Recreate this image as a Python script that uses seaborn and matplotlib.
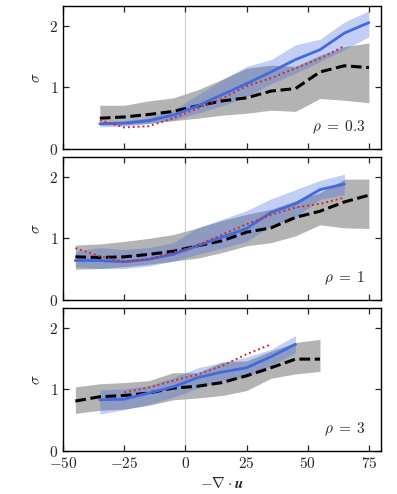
import numpy as np
import matplotlib
matplotlib.use('Agg')
import matplotlib.pyplot as plt
import seaborn as sns
import pandas as pd

# ------------------------------------------------
# Data, one block per panel
# ------------------------------------------------
rho_labels = [r'$\rho\;=\;0.3$', r'$\rho\;=\;1$', r'$\rho\;=\;3$']
x_ticks = [-50, -25, 0, 25, 50, 75]
y_ticks = [0, 1, 2]

# panel rho = 0.3
x_black_1 = [-35, -25, -15, -5, 5, 15, 25, 35, 45, 55, 65, 75]
black_1 = [0.50, 0.52, 0.56, 0.61, 0.70, 0.78, 0.83, 0.94, 0.98, 1.25, 1.35, 1.32]
black_hi_1 = [0.71, 0.71, 0.78, 0.83, 0.96, 1.13, 1.31, 1.36, 1.34, 1.52, 1.66, 1.72]
black_lo_1 = [0.39, 0.39, 0.42, 0.46, 0.50, 0.55, 0.58, 0.63, 0.61, 0.82, 0.79, 0.75]
x_blue_1 = [-35, -25, -15, -5, 5, 15, 25, 35, 45, 55, 65, 75]
blue_1 = [0.41, 0.42, 0.46, 0.55, 0.70, 0.88, 1.06, 1.25, 1.45, 1.61, 1.88, 2.05]
blue_hi_1 = [0.44, 0.46, 0.51, 0.63, 0.88, 1.12, 1.34, 1.45, 1.69, 1.78, 2.06, 2.24]
blue_lo_1 = [0.36, 0.37, 0.41, 0.47, 0.58, 0.70, 0.85, 1.06, 1.23, 1.42, 1.61, 1.82]
x_red_1 = [-35, -25, -15, -5, 5, 15, 25, 35, 45, 55, 65]
red_1 = [0.47, 0.35, 0.37, 0.50, 0.66, 0.82, 1.02, 1.15, 1.31, 1.47, 1.67]

# panel rho = 1
x_black_2 = [-45, -35, -25, -15, -5, 5, 15, 25, 35, 45, 55, 65, 75]
black_2 = [0.70, 0.69, 0.70, 0.74, 0.79, 0.88, 0.96, 1.10, 1.17, 1.34, 1.44, 1.59, 1.70]
black_hi_2 = [0.89, 0.91, 0.95, 1.00, 1.06, 1.17, 1.29, 1.39, 1.47, 1.61, 1.74, 1.96, 1.96]
black_lo_2 = [0.50, 0.51, 0.54, 0.58, 0.63, 0.68, 0.77, 0.88, 0.93, 1.04, 1.22, 1.17, 1.16]
x_blue_2 = [-45, -35, -25, -15, -5, 5, 15, 25, 35, 45, 55, 65]
blue_2 = [0.64, 0.64, 0.62, 0.66, 0.74, 0.88, 1.02, 1.16, 1.42, 1.56, 1.79, 1.88]
blue_hi_2 = [0.79, 0.85, 0.82, 0.85, 0.93, 1.17, 1.31, 1.45, 1.64, 1.79, 1.94, 2.04]
blue_lo_2 = [0.54, 0.51, 0.51, 0.55, 0.63, 0.74, 0.84, 0.95, 1.20, 1.34, 1.63, 1.71]
x_red_2 = [-45, -35, -25, -15, -5, 5, 15, 25, 35, 45, 55, 65]
red_2 = [0.84, 0.71, 0.62, 0.66, 0.77, 0.89, 1.06, 1.23, 1.38, 1.50, 1.56, 1.66]

# panel rho = 3
x_black_3 = [-45, -35, -25, -15, -5, 5, 15, 25, 35, 45, 55]
black_3 = [0.81, 0.88, 0.90, 0.94, 1.02, 1.05, 1.11, 1.22, 1.35, 1.49, 1.49]
black_hi_3 = [1.04, 1.09, 1.11, 1.14, 1.27, 1.27, 1.44, 1.46, 1.62, 1.76, 1.81]
black_lo_3 = [0.61, 0.66, 0.68, 0.74, 0.83, 0.86, 0.90, 0.98, 1.18, 1.25, 1.29]
x_blue_3 = [-35, -25, -15, -5, 5, 15, 25, 35, 45]
blue_3 = [0.83, 0.84, 0.94, 1.04, 1.19, 1.28, 1.35, 1.53, 1.73]
blue_hi_3 = [0.99, 1.01, 1.06, 1.19, 1.35, 1.44, 1.52, 1.65, 1.87]
blue_lo_3 = [0.60, 0.67, 0.76, 0.87, 1.02, 1.14, 1.20, 1.38, 1.60]
x_red_3 = [-25, -15, -5, 5, 15, 25, 35]
red_3 = [0.95, 1.03, 1.14, 1.24, 1.38, 1.57, 1.73]

panels = [
    (x_black_1, black_1, black_lo_1, black_hi_1, x_blue_1, blue_1, blue_lo_1, blue_hi_1, x_red_1, red_1),
    (x_black_2, black_2, black_lo_2, black_hi_2, x_blue_2, blue_2, blue_lo_2, blue_hi_2, x_red_2, red_2),
    (x_black_3, black_3, black_lo_3, black_hi_3, x_blue_3, blue_3, blue_lo_3, blue_hi_3, x_red_3, red_3),
]

# ------------------------------------------------
# Style
# ------------------------------------------------
sns.set_style('ticks')
plt.rcParams['font.family'] = ['DejaVu Serif']
plt.rcParams['mathtext.fontset'] = 'cm'
plt.rcParams['font.size'] = 11
plt.rcParams['xtick.direction'] = 'in'
plt.rcParams['ytick.direction'] = 'in'
plt.rcParams['xtick.top'] = True
plt.rcParams['ytick.right'] = True
plt.rcParams['axes.linewidth'] = 1.0
plt.rcParams['axes.edgecolor'] = 'black'

fig, axes = plt.subplots(3, 1, figsize=(3.97, 4.94), dpi=100, sharex=True)
fig.subplots_adjust(left=0.159, right=0.96, top=0.988, bottom=0.087, hspace=0.055)

blue = '#4169e1'
for ax, p, lab in zip(axes, panels, rho_labels):
    xb, yb, lob, hib, xu, yu, lou, hiu, xr, yr = p
    ax.axvline(0, color='#cccccc', lw=0.8, zorder=0)
    ax.fill_between(xb, lob, hib, color='#a6a6a6', alpha=0.85, lw=0, zorder=1)
    ax.fill_between(xu, lou, hiu, color=blue, alpha=0.32, lw=0, zorder=2)
    df_b = pd.DataFrame({'x': xb, 'y': yb})
    df_u = pd.DataFrame({'x': xu, 'y': yu})
    df_r = pd.DataFrame({'x': xr, 'y': yr})
    sns.lineplot(data=df_b, x='x', y='y', ax=ax, color='black', lw=2.2, zorder=3)
    ax.lines[-1].set_dashes([3.5, 1.5])
    sns.lineplot(data=df_u, x='x', y='y', ax=ax, color=blue, lw=2.0, zorder=4)
    sns.lineplot(data=df_r, x='x', y='y', ax=ax, color='#d62728', lw=1.4, zorder=5)
    ax.lines[-1].set_linestyle((0, (1, 1.5)))
    ax.set_xlim(-50, 80)
    ax.set_ylim(0, 2.32)
    ax.set_yticks(y_ticks)
    ax.set_yticklabels([f'${t}$' for t in y_ticks])
    ax.set_xticks(x_ticks)
    ax.set_xticklabels([f'${t}$' for t in x_ticks])
    ax.tick_params(length=4, width=0.9, labelsize=11)
    ax.set_ylabel(r'$\sigma$', fontsize=11)
    ax.set_xlabel('')
    ax.text(0.95, 0.15, lab, transform=ax.transAxes, ha='right', va='center', fontsize=11)

axes[-1].set_xlabel(r'$-\boldsymbol{\nabla}\cdot\boldsymbol{u}$', fontsize=11)

plt.savefig('out.png', dpi=100)
